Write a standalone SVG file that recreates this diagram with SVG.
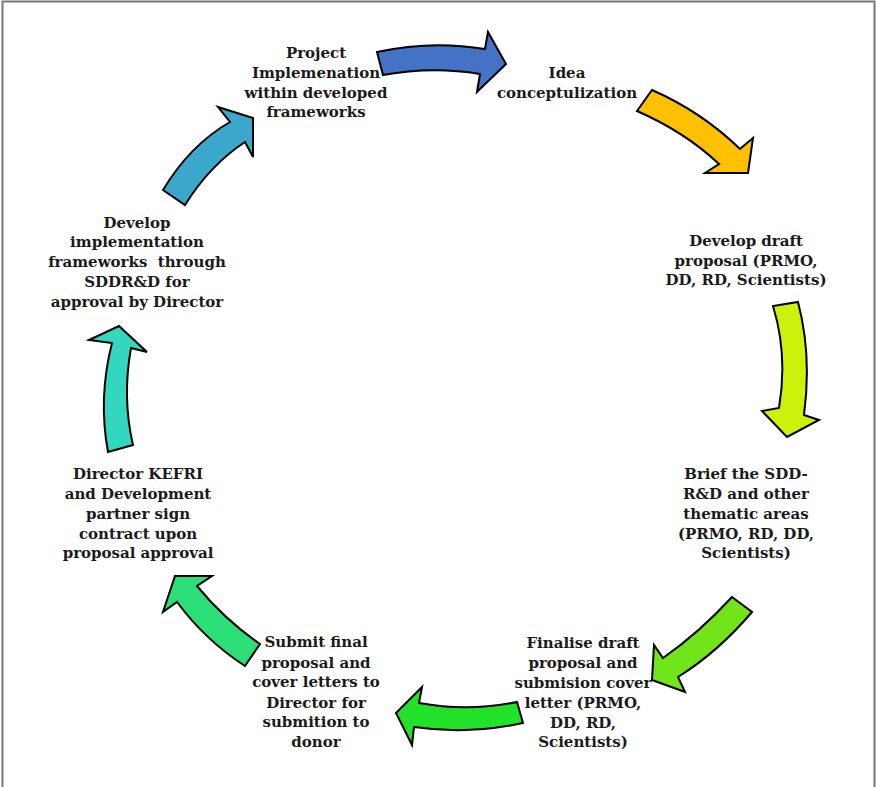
<svg xmlns="http://www.w3.org/2000/svg" width="877" height="787" viewBox="0 0 877 787">
<style>
.a{stroke:#000;stroke-width:2;stroke-linejoin:miter}
.t{font-family:"DejaVu Serif","Liberation Serif",serif;font-weight:bold;font-size:15px;fill:#1a1a1a;text-anchor:middle;white-space:pre}
</style>
<rect x="2.5" y="1.5" width="872" height="800" fill="#fff" stroke="#777" stroke-width="2"/>
<g id="connectors">
<path class="a" fill="#4472C4" d="M377,52 Q431,40 485,49 L488,32 L506,64 L477,92 L480,74 Q432,66 383,75 Z"/>
<path class="a" fill="#FFC000" d="M652,90 Q702,112 740,149 L753,138 L748,173 L705,173 L719,164 Q685,132 637,111 Z"/>
<path class="a" fill="#CCF20C" d="M798,302 Q812,355 804,415 L819,420 L787,437 L762,411 L779,408 Q788,355 773,306 Z"/>
<path class="a" fill="#72E51A" d="M752,612 Q718,652 678,677 L685,692 L652,680 L654,645 L663,658 Q700,632 732,597 Z"/>
<path class="a" fill="#22E22A" d="M523,723 Q468,735 414,727 L412,745 L396,713 L422,687 L419,703 Q468,712 517,702 Z"/>
<path class="a" fill="#2BDE76" d="M245,666 Q205,640 177,602 L163,612 L175,576 L212,576 L197,586 Q225,620 260,644 Z"/>
<path class="a" fill="#33D7BE" d="M108,452 Q98,398 112,343 L89,340 L119,326 L147,352 L131,348 Q122,398 133,445 Z"/>
<path class="a" fill="#3BA8CB" d="M163,190 Q190,145 230,122 L218,107 L253,118 L253,157 L245,142 Q210,165 185,205 Z"/>
</g>
<g id="n1"><text class="t" x="316"><tspan x="316" y="58">Project</tspan><tspan x="316" y="78">Implemenation</tspan><tspan x="316" y="98">within developed</tspan><tspan x="316" y="117">frameworks</tspan></text></g>
<g id="n2"><text class="t"><tspan x="567" y="78">Idea</tspan><tspan x="567" y="98">conceptulization</tspan></text></g>
<g id="n3"><text class="t"><tspan x="746" y="246">Develop draft</tspan><tspan x="746" y="266">proposal (PRMO,</tspan><tspan x="746" y="285">DD, RD, Scientists)</tspan></text></g>
<g id="n4"><text class="t"><tspan x="746" y="479">Brief the SDD-</tspan><tspan x="746" y="499">R&amp;D and other</tspan><tspan x="746" y="519">thematic areas</tspan><tspan x="746" y="539">(PRMO, RD, DD,</tspan><tspan x="746" y="558">Scientists)</tspan></text></g>
<g id="n5"><text class="t"><tspan x="583" y="648">Finalise draft</tspan><tspan x="583" y="668">proposal and</tspan><tspan x="583" y="688">submision cover</tspan><tspan x="583" y="708">letter (PRMO,</tspan><tspan x="583" y="728">DD, RD,</tspan><tspan x="583" y="747">Scientists)</tspan></text></g>
<g id="n6"><text class="t"><tspan x="316" y="647">Submit final</tspan><tspan x="316" y="668">proposal and</tspan><tspan x="316" y="687">cover letters to</tspan><tspan x="316" y="708">Director for</tspan><tspan x="316" y="727">submition to</tspan><tspan x="316" y="747">donor</tspan></text></g>
<g id="n7"><text class="t"><tspan x="138" y="479">Director KEFRI</tspan><tspan x="138" y="499">and Development</tspan><tspan x="138" y="519">partner sign</tspan><tspan x="138" y="539">contract upon</tspan><tspan x="138" y="558">proposal approval</tspan></text></g>
<g id="n8"><text class="t"><tspan x="137" y="228">Develop</tspan><tspan x="137" y="247">implementation</tspan><tspan x="137" y="267">frameworks  through</tspan><tspan x="137" y="287">SDDR&amp;D for</tspan><tspan x="137" y="307">approval by Director</tspan></text></g>
</svg>
